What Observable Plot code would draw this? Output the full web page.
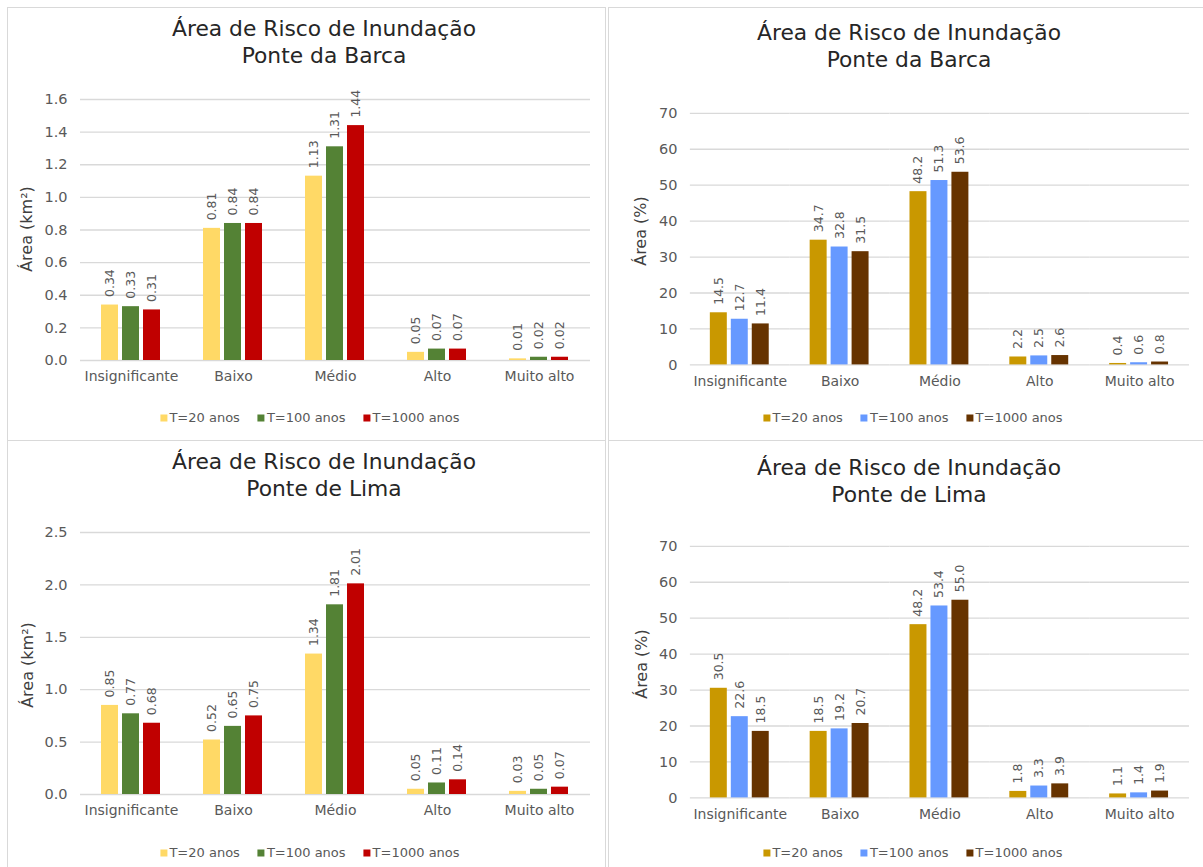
<!DOCTYPE html>
<html><head><meta charset="utf-8">
<script src="https://cdn.jsdelivr.net/npm/d3@7"></script>
<script src="https://cdn.jsdelivr.net/npm/@observablehq/plot@0.6"></script>
<style>
body{margin:0;background:#fff;font-family:"DejaVu Sans",sans-serif;}
#page{position:relative;width:1203px;height:867px;overflow:hidden;background:#fff;}
.panel{position:absolute;border:1px solid #d9d9d9;box-sizing:border-box;}
.title{position:absolute;transform:translateX(-50%);text-align:center;font-size:21.8px;line-height:27px;color:#262626;white-space:nowrap;}
.ylab{position:absolute;transform:translate(-50%,-50%) rotate(-90deg);font-size:16px;color:#404040;white-space:nowrap;}
.legend{position:absolute;transform:translate(-50%,-50%);display:flex;gap:18px;font-size:13px;color:#595959;white-space:nowrap;align-items:center;}
.legend .sw{display:inline-block;width:7px;height:7px;margin-right:2px;vertical-align:middle;}
.plotwrap{position:absolute;}
</style></head><body><div id="page"></div>
<script>
// ---- data ----
const categories = ["Insignificante", "Baixo", "Médio", "Alto", "Muito alto"];
const series = ["T=20 anos", "T=100 anos", "T=1000 anos"];
const titleLine1 = "Área de Risco de Inundação";
const placeBarca = "Ponte da Barca";
const placeLima = "Ponte de Lima";
const labelKm2 = "Área (km²)";
const labelPct = "Área (%)";

const barcaKm2_T20 = [0.34, 0.81, 1.13, 0.05, 0.01];
const barcaKm2_T100 = [0.33, 0.84, 1.31, 0.07, 0.02];
const barcaKm2_T1000 = [0.31, 0.84, 1.44, 0.07, 0.02];

const barcaPct_T20 = [14.5, 34.7, 48.2, 2.2, 0.4];
const barcaPct_T100 = [12.7, 32.8, 51.3, 2.5, 0.6];
const barcaPct_T1000 = [11.4, 31.5, 53.6, 2.6, 0.8];

const limaKm2_T20 = [0.85, 0.52, 1.34, 0.05, 0.03];
const limaKm2_T100 = [0.77, 0.65, 1.81, 0.11, 0.05];
const limaKm2_T1000 = [0.68, 0.75, 2.01, 0.14, 0.07];

const limaPct_T20 = [30.5, 18.5, 48.2, 1.8, 1.1];
const limaPct_T100 = [22.6, 19.2, 53.4, 3.3, 1.4];
const limaPct_T1000 = [18.5, 20.7, 55.0, 3.9, 1.9];

const ticksBarcaKm2 = [0, 0.2, 0.4, 0.6, 0.8, 1.0, 1.2, 1.4, 1.6];
const ticksLimaKm2 = [0, 0.5, 1.0, 1.5, 2.0, 2.5];
const ticksPct = [0, 10, 20, 30, 40, 50, 60, 70];

const coloursKm2 = ["#FFD966", "#548235", "#C00000"];
const coloursPct = ["#C99800", "#6699FF", "#663300"];

// ---- layout ----
const page = document.getElementById("page");

function el(cls, style, html) {
  const d = document.createElement("div");
  d.className = cls;
  Object.assign(d.style, style);
  if (html !== undefined) d.innerHTML = html;
  page.appendChild(d);
  return d;
}

function drawPanel(cfg) {
  el("panel", {left: cfg.px + "px", top: cfg.py + "px", width: cfg.w + "px", height: cfg.h + "px"});
  const rows = [];
  cfg.values.forEach((vals, si) => vals.forEach((v, ci) => rows.push({cat: categories[ci], serie: series[si], value: v})));
  const fmt = d3.format(cfg.tickFmt);
  const chart = Plot.plot({
    width: cfg.w, height: cfg.h,
    marginLeft: cfg.mL, marginRight: cfg.mR, marginTop: cfg.mT, marginBottom: cfg.mB,
    style: {fontFamily: "DejaVu Sans", background: "transparent", overflow: "visible"},
    fx: {domain: categories, padding: 0},
    x: {domain: series, paddingInner: 0.18, paddingOuter: 0.91, axis: null},
    y: {domain: cfg.domain},
    color: {domain: series, range: cfg.colors},
    marks: [
      Plot.gridY(cfg.ticks, {stroke: "#d9d9d9", strokeOpacity: 1, strokeWidth: 1.3}),
      Plot.axisY({ticks: cfg.ticks, tickFormat: fmt, tickSize: 0, tickPadding: 13, fontSize: 14.5, color: "#595959", label: null}),
      Plot.axisFx({anchor: "bottom", tickSize: 0, tickPadding: 11, fontSize: 14, color: "#595959", label: null}),
      Plot.barY(rows, {fx: "cat", x: "serie", y: "value", fill: "serie"}),
      Plot.text(rows, {fx: "cat", x: "serie", y: "value", text: d => d.value.toFixed(cfg.dec),
        rotate: -90, textAnchor: "start", lineAnchor: "middle", dy: -8, fill: "#595959", fontSize: 12.5})
    ]
  });
  const wrap = el("plotwrap", {left: cfg.px + "px", top: cfg.py + "px"});
  wrap.appendChild(chart);
  el("title", {left: cfg.titleX + "px", top: cfg.titleY + "px"}, titleLine1 + "<br>" + cfg.place);
  el("ylab", {left: cfg.ylabX + "px", top: cfg.ylabY + "px"}, cfg.ylab);
  const lg = el("legend", {left: cfg.legX + "px", top: cfg.legY + "px"});
  series.forEach((s, i) => {
    const item = document.createElement("span");
    item.innerHTML = `<span class="sw" style="background:${cfg.colors[i]}"></span>${s}`;
    lg.appendChild(item);
  });
}

drawPanel({px: 7, py: 7, w: 599, h: 434, mL: 73, mR: 16, mT: 92, mB: 81,
  values: [barcaKm2_T20, barcaKm2_T100, barcaKm2_T1000], domain: [0, 1.6], ticks: ticksBarcaKm2,
  tickFmt: ".1f", dec: 2, colors: coloursKm2, place: placeBarca, ylab: labelKm2,
  titleX: 324, titleY: 15, ylabX: 26, ylabY: 229, legX: 310, legY: 417});

drawPanel({px: 608, py: 7, w: 596, h: 434, mL: 80, mR: 12, mT: 106, mB: 76,
  values: [barcaPct_T20, barcaPct_T100, barcaPct_T1000], domain: [0, 70], ticks: ticksPct,
  tickFmt: "d", dec: 1, colors: coloursPct, place: placeBarca, ylab: labelPct,
  titleX: 909, titleY: 19, ylabX: 640, ylabY: 231, legX: 913, legY: 417});

drawPanel({px: 7, py: 440, w: 599, h: 430, mL: 73, mR: 16, mT: 92, mB: 76,
  values: [limaKm2_T20, limaKm2_T100, limaKm2_T1000], domain: [0, 2.5], ticks: ticksLimaKm2,
  tickFmt: ".1f", dec: 2, colors: coloursKm2, place: placeLima, ylab: labelKm2,
  titleX: 324, titleY: 448, ylabX: 27, ylabY: 665, legX: 310, legY: 852});

drawPanel({px: 608, py: 440, w: 596, h: 430, mL: 80, mR: 12, mT: 106, mB: 72,
  values: [limaPct_T20, limaPct_T100, limaPct_T1000], domain: [0, 70], ticks: ticksPct,
  tickFmt: "d", dec: 1, colors: coloursPct, place: placeLima, ylab: labelPct,
  titleX: 909, titleY: 454, ylabX: 641, ylabY: 664, legX: 913, legY: 852});
</script>
</body></html>
